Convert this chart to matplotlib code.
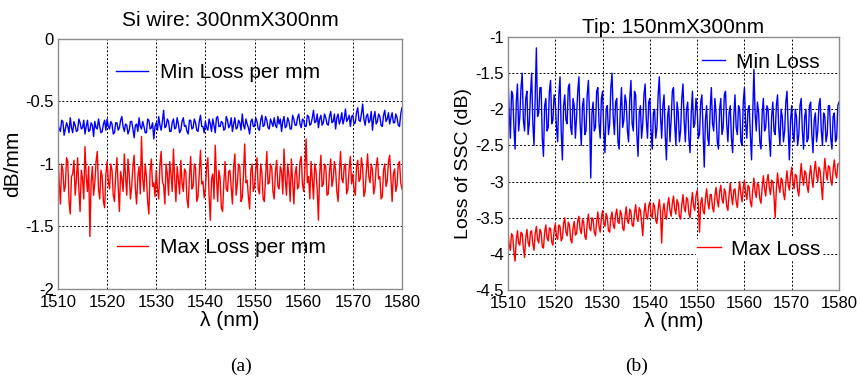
import numpy as np
import matplotlib
matplotlib.use('Agg')
import matplotlib.pyplot as plt
from matplotlib.legend import Legend
from matplotlib.ticker import FormatStrFormatter

plt.rcParams['font.family'] = ['Liberation Sans', 'DejaVu Sans']
plt.rcParams['axes.unicode_minus'] = False

# samples every 0.25 nm from 1510 to 1580 nm (281 values per trace)

# (a) Si wire 300nm x 300nm, dB/mm
si_min_loss = [
    -0.68, -0.72, -0.74, -0.65, -0.66, -0.77, -0.72, -0.67, -0.70, -0.75,
    -0.63, -0.71, -0.75, -0.66, -0.69, -0.74, -0.73, -0.64, -0.67, -0.72,
    -0.71, -0.65, -0.76, -0.70, -0.65, -0.74, -0.73, -0.67, -0.69, -0.78,
    -0.66, -0.71, -0.72, -0.64, -0.70, -0.75, -0.74, -0.68, -0.65, -0.73,
    -0.64, -0.70, -0.72, -0.66, -0.68, -0.76, -0.75, -0.67, -0.67, -0.73,
    -0.71, -0.65, -0.62, -0.70, -0.74, -0.68, -0.69, -0.76, -0.73, -0.66,
    -0.66, -0.72, -0.79, -0.69, -0.68, -0.74, -0.63, -0.70, -0.72, -0.66,
    -0.70, -0.75, -0.75, -0.64, -0.65, -0.72, -0.71, -0.67, -0.80, -0.70,
    -0.67, -0.73, -0.62, -0.69, -0.73, -0.66, -0.57, -0.71, -0.70, -0.64,
    -0.66, -0.74, -0.74, -0.67, -0.64, -0.72, -0.71, -0.63, -0.68, -0.75,
    -0.73, -0.66, -0.63, -0.70, -0.69, -0.74, -0.76, -0.65, -0.65, -0.72,
    -0.71, -0.64, -0.67, -0.73, -0.74, -0.66, -0.61, -0.70, -0.70, -0.75,
    -0.66, -0.71, -0.73, -0.64, -0.68, -0.74, -0.64, -0.69, -0.75, -0.63,
    -0.62, -0.70, -0.70, -0.66, -0.67, -0.73, -0.72, -0.62, -0.65, -0.71,
    -0.69, -0.63, -0.74, -0.68, -0.63, -0.72, -0.71, -0.65, -0.67, -0.73,
    -0.60, -0.69, -0.72, -0.64, -0.68, -0.71, -0.76, -0.66, -0.64, -0.70,
    -0.70, -0.63, -0.66, -0.72, -0.73, -0.65, -0.61, -0.70, -0.69, -0.62,
    -0.65, -0.71, -0.72, -0.64, -0.67, -0.70, -0.63, -0.69, -0.71, -0.62,
    -0.68, -0.64, -0.74, -0.66, -0.62, -0.71, -0.70, -0.63, -0.66, -0.72,
    -0.72, -0.61, -0.64, -0.69, -0.69, -0.63, -0.60, -0.68, -0.71, -0.64,
    -0.65, -0.70, -0.70, -0.61, -0.62, -0.69, -0.68, -0.63, -0.57, -0.67,
    -0.66, -0.60, -0.71, -0.64, -0.61, -0.69, -0.67, -0.60, -0.63, -0.68,
    -0.69, -0.62, -0.58, -0.67, -0.66, -0.60, -0.72, -0.63, -0.60, -0.68,
    -0.65, -0.59, -0.68, -0.64, -0.56, -0.66, -0.64, -0.61, -0.70, -0.62,
    -0.61, -0.68, -0.67, -0.59, -0.55, -0.65, -0.66, -0.60, -0.52, -0.64,
    -0.69, -0.62, -0.60, -0.67, -0.65, -0.58, -0.73, -0.63, -0.58, -0.68,
    -0.66, -0.60, -0.62, -0.69, -0.70, -0.61, -0.57, -0.66, -0.64, -0.59,
    -0.68, -0.63, -0.59, -0.67, -0.67, -0.60, -0.63, -0.69, -0.70, -0.60,
    -0.55,
]
si_max_loss = [
    -0.92, -1.15, -1.32, -1.00, -1.05, -1.22, -1.18, -0.95, -0.98, -1.30,
    -1.40, -1.10, -1.08, -0.97, -1.25, -1.12, -0.95, -1.20, -1.38, -1.05,
    -1.12, -1.28, -0.86, -1.10, -1.22, -1.02, -1.58, -1.15, -1.02, -1.25,
    -1.15, -0.98, -0.90, -1.20, -1.28, -1.05, -1.10, -1.30, -1.35, -1.08,
    -0.98, -1.14, -1.20, -1.00, -1.05, -1.25, -1.30, -1.08, -0.95, -1.18,
    -1.38, -1.06, -1.12, -1.22, -0.92, -1.10, -1.25, -0.96, -1.08, -1.28,
    -1.18, -1.02, -0.93, -1.20, -1.32, -1.10, -1.02, -1.24, -0.78, -1.12,
    -1.22, -1.00, -1.10, -1.30, -1.40, -1.05, -0.96, -1.18, -1.15, -1.26,
    -1.05, -1.20, -1.28, -1.00, -0.90, -1.14, -1.17, -1.32, -1.00, -1.08,
    -1.25, -0.98, -1.08, -1.22, -0.88, -1.12, -1.30, -1.02, -1.12, -1.24,
    -0.97, -1.15, -1.22, -1.04, -1.06, -1.28, -1.35, -1.10, -0.94, -1.20,
    -1.18, -1.00, -1.03, -1.30, -1.26, -1.08, -0.89, -1.16, -1.14, -1.27,
    -1.20, -1.02, -0.95, -1.25, -1.45, -1.12, -1.08, -1.28, -0.85, -1.10,
    -1.30, -1.05, -1.12, -1.35, -1.38, -1.15, -0.98, -1.20, -1.22, -1.06,
    -1.05, -1.18, -1.32, -1.02, -0.92, -1.25, -1.16, -1.00, -1.02, -1.30,
    -1.27, -1.08, -0.84, -1.15, -1.13, -1.26, -1.36, -1.05, -1.00, -1.22,
    -1.18, -1.04, -0.95, -1.20, -1.24, -1.00, -1.07, -1.28, -1.30, -1.10,
    -0.90, -1.16, -1.15, -1.00, -1.03, -1.22, -1.28, -1.06, -0.97, -1.18,
    -1.20, -1.02, -1.06, -1.24, -0.88, -1.12, -1.25, -1.00, -1.10, -1.30,
    -0.96, -1.14, -1.32, -1.08, -1.02, -1.20, -1.18, -0.98, -0.94, -1.16,
    -1.22, -1.04, -0.80, -1.15, -1.10, -1.28, -0.98, -1.12, -1.28, -1.00,
    -1.05, -1.20, -1.45, -1.08, -0.93, -1.18, -1.16, -1.00, -1.02, -1.25,
    -1.24, -1.06, -0.96, -1.18, -1.12, -0.98, -1.05, -1.22, -1.30, -1.08,
    -0.90, -1.12, -1.15, -1.02, -1.00, -1.24, -1.20, -1.04, -0.94, -1.16,
    -1.08, -1.20, -1.25, -1.02, -0.97, -1.14, -1.12, -0.95, -1.03, -1.26,
    -1.22, -1.06, -0.92, -1.10, -1.15, -1.00, -1.05, -1.24, -1.18, -1.02,
    -0.95, -1.12, -1.10, -1.28, -1.26, -1.05, -1.00, -1.18, -1.14, -0.98,
    -0.93, -1.12, -1.30, -1.08, -1.04, -1.22, -1.17, -1.00, -0.98, -1.15,
    -1.20,
]

# (b) Tip 150nm x 300nm, loss of SSC in dB
tip_min_loss = [
    -1.55, -2.05, -2.40, -1.75, -1.80, -2.25, -2.55, -1.90, -1.65, -2.30,
    -2.10, -1.70, -1.50, -2.15, -2.30, -1.85, -1.75, -2.35, -2.20, -1.80,
    -1.50, -2.20, -2.50, -1.85, -1.15, -2.10, -2.05, -1.70, -1.70, -2.40,
    -2.65, -1.95, -1.85, -2.30, -2.25, -1.75, -1.60, -2.20, -2.15, -1.80,
    -1.90, -2.25, -2.45, -1.80, -1.55, -2.30, -2.70, -1.95, -1.80, -2.15,
    -2.20, -1.70, -1.65, -2.25, -2.35, -1.85, -1.95, -2.40, -2.10, -1.75,
    -1.55, -2.20, -2.50, -1.95, -1.85, -2.35, -2.30, -1.80, -1.60, -2.10,
    -2.95, -2.05, -1.90, -2.30, -2.25, -1.75, -1.70, -2.20, -2.40, -1.85,
    -1.75, -2.30, -2.60, -2.00, -1.95, -2.35, -2.20, -1.70, -1.50, -2.10,
    -2.35, -1.90, -1.85, -2.45, -2.55, -2.00, -1.70, -2.25, -2.15, -1.80,
    -1.90, -2.30, -2.45, -1.85, -1.60, -2.20, -2.30, -1.75, -1.80, -2.35,
    -2.65, -2.05, -1.95, -2.40, -2.20, -1.80, -1.65, -2.15, -2.40, -1.90,
    -1.85, -2.30, -2.55, -2.05, -2.00, -2.40, -2.25, -1.80, -1.55, -2.10,
    -2.40, -1.95, -1.80, -2.35, -2.70, -2.10, -1.95, -2.45, -2.15, -1.75,
    -1.70, -2.20, -2.50, -1.90, -2.05, -2.45, -2.30, -1.85, -1.65, -2.15,
    -2.45, -2.00, -1.90, -2.40, -2.60, -2.05, -1.75, -2.25, -2.20, -1.85,
    -2.00, -2.40, -2.35, -1.90, -1.80, -2.30, -2.80, -2.15, -1.95, -2.40,
    -2.50, -2.00, -1.70, -2.20, -2.30, -1.85, -2.05, -2.45, -2.55, -2.00,
    -1.85, -2.35, -2.25, -1.80, -1.75, -2.20, -2.45, -2.05, -1.95, -2.40,
    -2.60, -2.10, -1.80, -2.25, -2.35, -1.95, -2.00, -2.45, -2.50, -1.90,
    -1.70, -2.20, -2.40, -2.00, -1.95, -2.35, -2.70, -2.10, -1.45, -2.05,
    -2.30, -1.90, -2.05, -2.45, -2.55, -2.05, -1.85, -2.30, -2.25, -1.95,
    -2.00, -2.40, -2.65, -2.10, -1.90, -2.30, -2.35, -1.95, -1.80, -2.25,
    -2.50, -2.00, -2.10, -2.45, -2.30, -1.90, -1.75, -2.25, -2.70, -2.15,
    -1.95, -2.35, -2.45, -2.00, -2.10, -2.50, -2.35, -1.95, -1.85, -2.30,
    -2.55, -2.10, -2.00, -2.45, -2.40, -1.95, -1.90, -2.35, -2.60, -2.15,
    -2.05, -2.45, -2.30, -1.95, -1.85, -2.30, -2.50, -2.05, -2.10, -2.45,
    -2.35, -1.95, -1.95, -2.40, -2.55, -2.10, -2.05, -2.45, -2.40, -1.95,
    -1.90,
]
tip_max_loss = [
    -3.70, -3.88, -3.95, -3.72, -3.75, -3.98, -4.10, -3.80, -3.68, -3.85,
    -3.88, -3.70, -3.72, -3.92, -4.05, -3.78, -3.66, -3.84, -3.90, -3.70,
    -3.68, -3.86, -3.95, -3.72, -3.62, -3.80, -3.85, -3.66, -3.70, -3.90,
    -3.92, -3.70, -3.60, -3.78, -3.82, -3.64, -3.65, -3.84, -3.88, -3.68,
    -3.58, -3.76, -3.80, -3.60, -3.62, -3.82, -3.78, -3.58, -3.50, -3.70,
    -3.75, -3.56, -3.60, -3.80, -3.85, -3.64, -3.55, -3.74, -3.72, -3.54,
    -3.48, -3.66, -3.72, -3.52, -3.56, -3.76, -3.80, -3.58, -3.45, -3.64,
    -3.68, -3.50, -3.52, -3.70, -3.75, -3.55, -3.42, -3.62, -3.70, -3.50,
    -3.40, -3.58, -3.62, -3.44, -3.50, -3.68, -3.70, -3.50, -3.42, -3.60,
    -3.65, -3.46, -3.38, -3.56, -3.58, -3.40, -3.45, -3.64, -3.68, -3.48,
    -3.35, -3.54, -3.58, -3.38, -3.42, -3.60, -3.62, -3.44, -3.32, -3.50,
    -3.55, -3.36, -3.40, -3.58, -3.75, -3.45, -3.30, -3.48, -3.52, -3.34,
    -3.28, -3.46, -3.50, -3.30, -3.35, -3.54, -3.58, -3.38, -3.25, -3.42,
    -3.85, -3.40, -3.30, -3.48, -3.52, -3.32, -3.22, -3.40, -3.48, -3.30,
    -3.20, -3.38, -3.45, -3.25, -3.30, -3.48, -3.52, -3.32, -3.18, -3.36,
    -3.42, -3.22, -3.25, -3.44, -3.50, -3.30, -3.15, -3.34, -3.40, -3.20,
    -3.12, -3.32, -3.70, -3.30, -3.22, -3.40, -3.45, -3.24, -3.10, -3.28,
    -3.38, -3.18, -3.18, -3.36, -3.42, -3.20, -3.08, -3.26, -3.35, -3.14,
    -3.05, -3.24, -3.30, -3.10, -3.15, -3.34, -3.40, -3.18, -3.02, -3.20,
    -3.32, -3.12, -3.10, -3.28, -3.36, -3.14, -3.00, -3.18, -3.28, -3.08,
    -2.98, -3.16, -3.25, -3.05, -3.08, -3.28, -3.35, -3.12, -2.95, -3.14,
    -3.22, -3.02, -3.05, -3.24, -3.30, -3.08, -2.92, -3.10, -3.20, -3.00,
    -2.90, -3.08, -3.18, -2.98, -3.00, -3.20, -3.50, -3.10, -2.88, -3.06,
    -3.15, -2.95, -2.98, -3.16, -3.25, -3.02, -2.85, -3.04, -3.12, -2.92,
    -2.80, -3.00, -3.10, -2.90, -2.92, -3.12, -3.20, -2.96, -2.75, -2.94,
    -3.05, -2.85, -2.88, -3.06, -3.15, -2.92, -2.78, -2.96, -3.08, -2.86,
    -2.72, -2.90, -3.00, -2.80, -2.85, -3.04, -3.25, -2.92, -2.68, -2.86,
    -2.98, -2.78, -2.80, -2.98, -3.05, -2.84, -2.70, -2.88, -2.95, -2.76,
    -2.75,
]

xticks = [1510, 1520, 1530, 1540, 1550, 1560, 1570, 1580]


def wl(series):
    return np.linspace(1510, 1580, len(series))


fig = plt.figure(figsize=(8.6, 3.79), dpi=100)
ax_a = fig.add_axes([0.0674, 0.2375, 0.400, 0.6596])
ax_b = fig.add_axes([0.5907, 0.2348, 0.3849, 0.6675])


def style_axes(ax, ylim, yticks):
    ax.set_xlim(1510, 1580)
    ax.set_ylim(*ylim)
    ax.set_xticks(xticks)
    ax.set_yticks(yticks)
    ax.yaxis.set_major_formatter(FormatStrFormatter('%g'))
    ax.tick_params(length=0, labelsize=12, colors='black')
    ax.tick_params(axis='x', pad=4)
    ax.tick_params(axis='y', pad=3)
    ax.grid(True, color='black', linestyle=(0, (2, 2)), linewidth=0.7)
    ax.set_axisbelow(True)
    for sp in ax.spines.values():
        sp.set_color('#8c8c8c')
        sp.set_linewidth(1.0)
    ax.set_xlabel('λ (nm)', fontsize=15, labelpad=1)


def key(ax, line, label, x, y, hlen, pad, white=False):
    # one legend entry per label, placed where the original puts it
    leg = Legend(ax, [line], [label], loc='center left', bbox_to_anchor=(x, y),
                 frameon=white, fontsize=15, handlelength=hlen,
                 handletextpad=pad, borderpad=0.05, borderaxespad=0)
    if white:
        leg.get_frame().set_facecolor('white')
        leg.get_frame().set_edgecolor('none')
        leg.get_frame().set_alpha(1)
    ax.add_artist(leg)


# panel (a)
la_min, = ax_a.plot(wl(si_min_loss), si_min_loss, color='#0000ff', linewidth=1.0)
la_max, = ax_a.plot(wl(si_max_loss), si_max_loss, color='#ff0000', linewidth=1.0)
style_axes(ax_a, (-2, 0), [-2, -1.5, -1, -0.5, 0])
ax_a.set_ylabel('dB/mm', fontsize=15, labelpad=2)
ax_a.set_title('Si wire: 300nmX300nm', fontsize=15, pad=9)
key(ax_a, la_min, 'Min Loss per mm', 0.165, 0.864, 1.55, 0.58)
key(ax_a, la_max, 'Max Loss per mm', 0.170, 0.164, 1.45, 0.58)

# panel (b)
lb_min, = ax_b.plot(wl(tip_min_loss), tip_min_loss, color='#0000ff', linewidth=1.0)
lb_max, = ax_b.plot(wl(tip_max_loss), tip_max_loss, color='#ff0000', linewidth=1.0)
style_axes(ax_b, (-4.5, -1), [-4.5, -4, -3.5, -3, -2.5, -2, -1.5, -1])
ax_b.set_ylabel('Loss of SSC (dB)', fontsize=14, labelpad=2)
ax_b.set_title('Tip: 150nmX300nm', fontsize=15, pad=3)
key(ax_b, lb_min, 'Min Loss', 0.582, 0.901, 1.1, 0.53)
key(ax_b, lb_max, 'Max Loss', 0.567, 0.162, 1.15, 0.5, white=True)

fig.text(241 / 860, 1 - 366 / 379, '(a)', ha='center', va='center',
         fontsize=14, family=['Liberation Serif', 'DejaVu Serif'])
fig.text(637 / 860, 1 - 366 / 379, '(b)', ha='center', va='center',
         fontsize=14, family=['Liberation Serif', 'DejaVu Serif'])

fig.savefig('out.png', dpi=100)
